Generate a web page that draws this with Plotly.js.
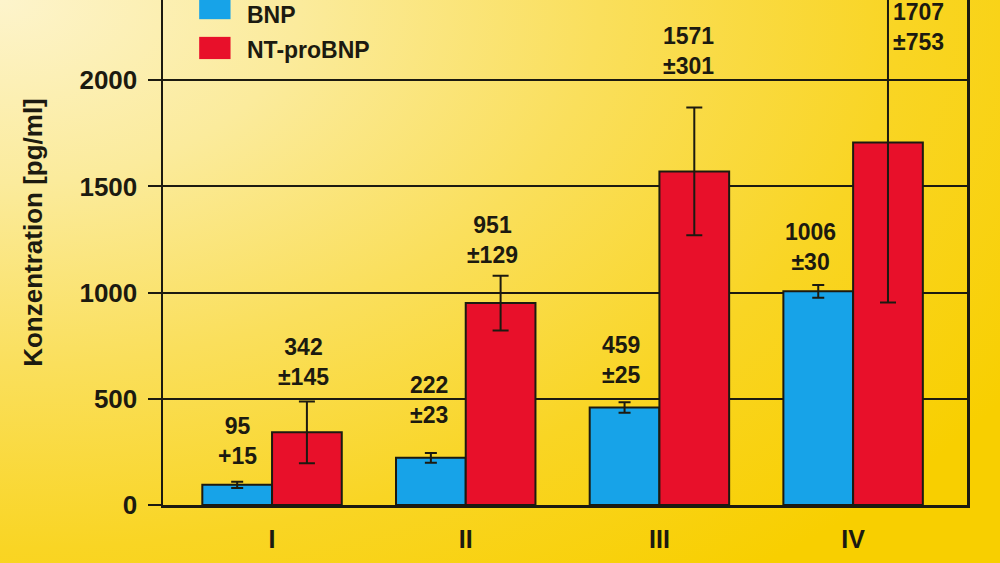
<!DOCTYPE html>
<html>
<head>
<meta charset="utf-8">
<script src="https://cdn.plot.ly/plotly-3.0.1.min.js"></script>
<style>
  html, body { margin: 0; padding: 0; }
  body {
    width: 1000px; height: 563px; overflow: hidden;
    background: radial-gradient(ellipse 120% 130% at 0% 0%, #fdf4cc 0%, #fbeb9c 25%, #fadf5c 50%, #f9d524 75%, #f8cf00 100%);
  }
  #chart { width: 1000px; height: 563px; }
</style>
</head>
<body>
<div id="chart"></div>
<script>
// ---- data ----
const categories = ["I", "II", "III", "IV"];
const seriesNames = ["BNP", "NT-proBNP"];
const bnpValues = [95, 222, 459, 1006];
const bnpErrors = [15, 23, 25, 30];
const ntValues = [342, 951, 1571, 1707];
const ntErrors = [145, 129, 301, 753];
const bnpErrorLabels = ["+15", "±23", "±25", "±30"];
const ntErrorLabels = ["±145", "±129", "±301", "±753"];
const yTickValues = [0, 500, 1000, 1500, 2000];

// ---- label placement (layout only) ----
const bnpLabelY = [301, 494, 685, 1215];
const bnpLabelShift = [0, -2, -4, -8];
const ntLabelY = [673, 1250, 2138, 2250];
const ntLabelShift = [-3, -8, -6, 31];

const dark = "#1c1a10";
const blue = "#17a3e8";
const red = "#e8102a";
const FONT = "Liberation Sans, Arial, sans-serif";

const traces = [
  {
    type: "bar", name: seriesNames[0], x: categories, y: bnpValues,
    marker: { color: blue, line: { color: dark, width: 2 } },
    error_y: { type: "data", array: bnpErrors, visible: true, color: dark, thickness: 2, width: 6 },
    showlegend: false, hoverinfo: "none"
  },
  {
    type: "bar", name: seriesNames[1], x: categories, y: ntValues,
    marker: { color: red, line: { color: dark, width: 2 } },
    error_y: { type: "data", array: ntErrors, visible: true, color: dark, thickness: 2, width: 8 },
    showlegend: false, hoverinfo: "none"
  }
];

const annotations = [];
const halfOffset = 0.18;
categories.forEach((c, i) => {
  annotations.push({
    xref: "x", yref: "y", x: i - halfOffset, y: bnpLabelY[i], xshift: bnpLabelShift[i],
    text: bnpValues[i] + "<br>" + bnpErrorLabels[i], showarrow: false,
    font: { family: FONT, size: 23, color: dark, weight: "bold" },
    xanchor: "center", yanchor: "middle", align: "center"
  });
  annotations.push({
    xref: "x", yref: "y", x: i + halfOffset, y: ntLabelY[i], xshift: ntLabelShift[i],
    text: ntValues[i] + "<br>" + ntErrorLabels[i], showarrow: false,
    font: { family: FONT, size: 23, color: dark, weight: "bold" },
    xanchor: "center", yanchor: "middle", align: "center"
  });
});
// y-axis title
annotations.push({
  xref: "paper", yref: "paper", x: -0.161, y: 0.54, xanchor: "center", yanchor: "middle",
  text: "Konzentration [pg/ml]", textangle: -90, showarrow: false,
  font: { family: FONT, size: 26, color: dark, weight: "bold" }
});
// legend texts
annotations.push({
  xref: "paper", yref: "paper", x: 0.102, y: 0.97, xanchor: "left", yanchor: "middle",
  text: seriesNames[0], showarrow: false,
  font: { family: FONT, size: 23, color: dark, weight: "bold" }
});
annotations.push({
  xref: "paper", yref: "paper", x: 0.102, y: 0.901, xanchor: "left", yanchor: "middle",
  text: seriesNames[1], showarrow: false,
  font: { family: FONT, size: 23, color: dark, weight: "bold" }
});

const shapes = [
  { type: "rect", xref: "paper", yref: "paper", x0: 0.045, x1: 0.084, y0: 0.962, y1: 1.02,
    fillcolor: blue, line: { width: 0 } },
  { type: "rect", xref: "paper", yref: "paper", x0: 0.045, x1: 0.084, y0: 0.883, y1: 0.927,
    fillcolor: red, line: { width: 0 } }
];

const layout = {
  width: 1000, height: 563,
  margin: { l: 163, r: 33, t: 0, b: 58, pad: 0 },
  paper_bgcolor: "rgba(0,0,0,0)",
  plot_bgcolor: "rgba(0,0,0,0)",
  barmode: "group", bargap: 0.28, bargroupgap: 0,
  font: { family: FONT, color: dark },
  xaxis: {
    type: "category", range: [-0.563, 3.588],
    showline: true, linecolor: dark, linewidth: 2.5, mirror: false,
    ticks: "", showgrid: false, zeroline: false,
    tickfont: { family: FONT, size: 25, color: dark, weight: "bold" },
    ticklabelstandoff: 10, fixedrange: true
  },
  yaxis: {
    range: [0, 2378], tickvals: yTickValues,
    showline: true, linecolor: dark, linewidth: 2.5, mirror: true,
    ticks: "outside", ticklen: 13, tickwidth: 2, tickcolor: dark,
    showgrid: true, gridcolor: dark, gridwidth: 2, zeroline: false,
    tickfont: { family: FONT, size: 26, color: dark, weight: "bold" },
    ticklabelstandoff: 5, fixedrange: true
  },
  annotations: annotations,
  shapes: shapes
};

Plotly.newPlot("chart", traces, layout, { displayModeBar: false, staticPlot: true });
</script>
</body>
</html>
